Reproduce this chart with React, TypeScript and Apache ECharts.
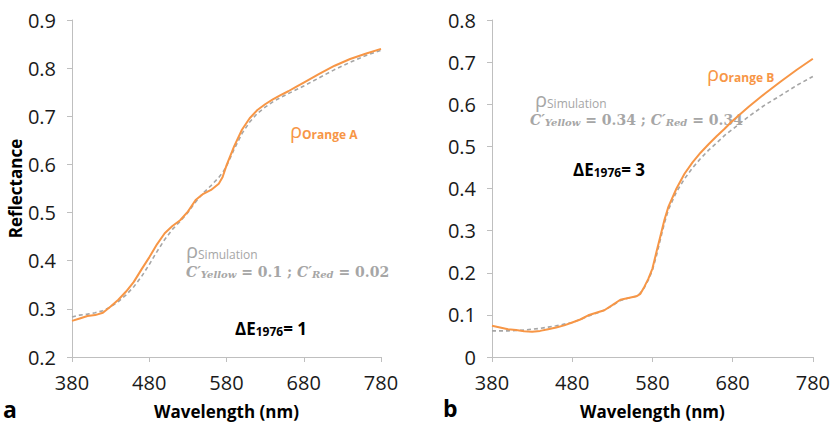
import React, { useEffect, useRef } from "react";
import * as echarts from "echarts";

// Panel a
const wlA = [380,390,400,410,420,430,440,450,460,470,480,490,500,510,520,530,540,550,560,570,575,580,590,600,610,620,630,640,650,660,670,680,700,720,740,760,780];
const orangeA = [0.275,0.280,0.285,0.287,0.292,0.305,0.319,0.336,0.356,0.382,0.407,0.434,0.457,0.472,0.484,0.502,0.526,0.539,0.547,0.560,0.574,0.598,0.638,0.672,0.696,0.713,0.725,0.735,0.744,0.752,0.761,0.770,0.788,0.805,0.819,0.830,0.840];
const simA = [0.283,0.287,0.289,0.292,0.296,0.304,0.315,0.329,0.346,0.367,0.392,0.419,0.444,0.465,0.482,0.500,0.522,0.541,0.556,0.573,0.583,0.596,0.632,0.664,0.688,0.706,0.719,0.730,0.739,0.747,0.755,0.763,0.780,0.797,0.812,0.826,0.837];

// Panel b
const wlB = [380,390,400,410,420,430,440,450,460,470,480,490,500,510,520,530,540,550,560,565,570,575,580,585,590,595,600,610,620,630,640,650,660,670,680,700,720,740,760,780];
const orangeB = [0.074,0.070,0.066,0.064,0.061,0.060,0.062,0.066,0.070,0.075,0.082,0.089,0.099,0.105,0.111,0.123,0.136,0.140,0.144,0.150,0.167,0.186,0.210,0.249,0.287,0.326,0.357,0.400,0.435,0.462,0.485,0.505,0.524,0.542,0.561,0.594,0.625,0.654,0.682,0.708];
const simB = [0.062,0.062,0.062,0.063,0.064,0.066,0.068,0.071,0.074,0.078,0.082,0.089,0.097,0.104,0.111,0.122,0.134,0.140,0.144,0.152,0.165,0.183,0.206,0.240,0.280,0.318,0.350,0.392,0.423,0.449,0.471,0.491,0.508,0.526,0.541,0.571,0.598,0.621,0.645,0.666];

const ORANGE = "#f79646";
const GRAY = "#a6a6a6";
const AXIS = "#bfbfbf";
const FONT = "Open Sans";

const pairs = (xs: number[], ys: number[]) => xs.map((x, i) => [x, ys[i]]);

export default function App() {
  const ref = useRef<HTMLDivElement>(null);
  useEffect(() => {
    if (!ref.current) return;
    const chart = echarts.init(ref.current, undefined, { renderer: "svg" });
    const xAxisBase = (gi: number) => ({
      type: "value",
      gridIndex: gi,
      min: 380,
      max: 780,
      interval: 100,
      axisLine: { show: true, lineStyle: { color: AXIS, width: 1 } },
      axisTick: { show: true, length: 5, lineStyle: { color: AXIS } },
      splitLine: { show: false },
      axisLabel: { fontFamily: FONT, fontSize: 20, color: "#1a1a1a", margin: 15 },
      name: "Wavelength (nm)",
      nameLocation: "middle",
      nameGap: 46,
      nameTextStyle: { fontFamily: FONT, fontSize: 17, fontWeight: "bold", color: "#000" },
    });
    const yAxisBase = (gi: number, max: number, name?: string) => ({
      type: "value",
      gridIndex: gi,
      min: gi === 0 ? 0.2 : 0,
      max,
      interval: 0.1,
      axisLine: { show: true, lineStyle: { color: AXIS, width: 1 } },
      axisTick: { show: true, length: 5, lineStyle: { color: AXIS } },
      splitLine: { show: false },
      axisLabel: {
        fontFamily: FONT, fontSize: 20, color: "#1a1a1a", margin: 16,
        formatter: (v: number) => (Math.round(v * 10) / 10).toString(),
      },
      name: name || "",
      nameLocation: "middle",
      nameGap: 46,
      nameTextStyle: { fontFamily: FONT, fontSize: 17, fontWeight: "bold", color: "#000" },
    });
    const rho = (x: number, y: number, sub: string, color: string, bold: boolean) => ({
      type: "text",
      x, y,
      style: {
        text: `{r|ρ}{s|${sub}}`,
        verticalAlign: "middle",
        rich: {
          r: { fontFamily: FONT, fontSize: 20, fill: color, color, verticalAlign: "bottom", lineHeight: 20 },
          s: { fontFamily: FONT, fontSize: 12, fill: color, color, verticalAlign: "bottom", lineHeight: 16, fontWeight: bold ? "bold" : "normal" },
        },
      },
    });
    const formula = (x: number, y: number, a: string, b: string) => ({
      type: "text",
      x, y,
      style: {
        text: `{c|C′}{sub|Yellow}{n| = ${a} ; }{c|C′}{sub|Red}{n| = ${b}}`,
        verticalAlign: "middle",
        rich: {
          c: { fontFamily: "DejaVu Serif", fontStyle: "italic", fontWeight: "bold", fontSize: 14, color: GRAY, fill: GRAY, verticalAlign: "bottom", lineHeight: 16 },
          sub: { fontFamily: "DejaVu Serif", fontStyle: "italic", fontWeight: "bold", fontSize: 10, color: GRAY, fill: GRAY, verticalAlign: "bottom", lineHeight: 12 },
          n: { fontFamily: "DejaVu Serif", fontWeight: "bold", fontSize: 14, color: GRAY, fill: GRAY, verticalAlign: "bottom", lineHeight: 16 },
        },
      },
    });
    const dE = (x: number, y: number, v: string) => ({
      type: "text",
      x, y,
      style: {
        text: `{a|ΔE}{b|1976}{a|= ${v}}`,
        verticalAlign: "middle",
        rich: {
          a: { fontFamily: FONT, fontWeight: "bold", fontSize: 17, color: "#000", fill: "#000", verticalAlign: "bottom", lineHeight: 20 },
          b: { fontFamily: FONT, fontWeight: "bold", fontSize: 12, color: "#000", fill: "#000", verticalAlign: "bottom", lineHeight: 16 },
        },
      },
    });
    chart.setOption({
      animation: false,
      backgroundColor: "#fff",
      grid: [
        { left: 72, top: 20, width: 309, height: 343 },
        { left: 492, top: 20, width: 326, height: 343 },
      ],
      xAxis: [xAxisBase(0), xAxisBase(1)],
      yAxis: [yAxisBase(0, 0.9, "Reflectance"), yAxisBase(1, 0.8)],
      series: [
        { type: "line", xAxisIndex: 0, yAxisIndex: 0, data: pairs(wlA, simA), showSymbol: false, lineStyle: { color: GRAY, width: 1.6, type: [4, 3] }, z: 2 },
        { type: "line", xAxisIndex: 0, yAxisIndex: 0, data: pairs(wlA, orangeA), showSymbol: false, lineStyle: { color: ORANGE, width: 2 }, z: 3 },
        { type: "line", xAxisIndex: 1, yAxisIndex: 1, data: pairs(wlB, simB), showSymbol: false, lineStyle: { color: GRAY, width: 1.6, type: [4, 3] }, z: 2 },
        { type: "line", xAxisIndex: 1, yAxisIndex: 1, data: pairs(wlB, orangeB), showSymbol: false, lineStyle: { color: ORANGE, width: 2 }, z: 3 },
      ],
      graphic: [
        rho(290, 130, "Orange A", ORANGE, true),
        rho(186, 250, "Simulation", GRAY, false),
        formula(186, 271, "0.1", "0.02"),
        dE(235, 327, "1"),
        rho(707, 73, "Orange B", ORANGE, true),
        rho(535, 99, "Simulation", GRAY, false),
        formula(530, 119, "0.34", "0.34"),
        dE(573, 168, "3"),
        { type: "text", x: 3, y: 409, style: { text: "a", fontFamily: FONT, fontWeight: "bold", fontSize: 23, fill: "#000", verticalAlign: "middle" } },
        { type: "text", x: 443, y: 408, style: { text: "b", fontFamily: FONT, fontWeight: "bold", fontSize: 23, fill: "#000", verticalAlign: "middle" } },
      ],
    });
    return () => chart.dispose();
  }, []);
  return <div ref={ref} style={{ position: "fixed", left: 0, top: 0, width: 833, height: 425, background: "#fff" }} />;
}
